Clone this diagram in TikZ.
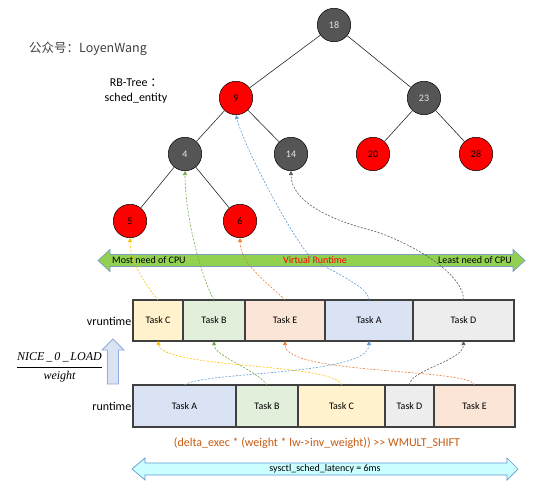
\documentclass[tikz,border=0pt]{standalone}
\usepackage{fontspec}
\setmainfont{Carlito}
\newfontfamily\cjk{Noto Sans CJK SC}
\newfontfamily\tnr{Liberation Serif}
\usetikzlibrary{arrows.meta}
\definecolor{treegray}{HTML}{555555}
\definecolor{treered}{HTML}{FF0000}
\definecolor{boxborder}{HTML}{404040}
\definecolor{fillC}{HTML}{FFF2CC}
\definecolor{fillB}{HTML}{E2EFDA}
\definecolor{fillE}{HTML}{FBE5D6}
\definecolor{fillA}{HTML}{DAE3F3}
\definecolor{fillD}{HTML}{EDEDED}
\definecolor{cY}{HTML}{FFC000}
\definecolor{cG}{HTML}{70AD47}
\definecolor{cO}{HTML}{ED7D31}
\definecolor{cB}{HTML}{5B9BD5}
\definecolor{cK}{HTML}{595959}
\definecolor{greenfill}{HTML}{92D050}
\definecolor{greenline}{HTML}{7A9CC6}
\definecolor{cyanfill}{HTML}{CCFFFF}
\definecolor{cyanline}{HTML}{5B9BD5}
\definecolor{upfill}{HTML}{DAE3F3}
\definecolor{upline}{HTML}{8FAADC}
\definecolor{formula}{HTML}{C55A11}
\definecolor{titlegray}{HTML}{404040}
\definecolor{numlight}{HTML}{E6E6E6}
\begin{document}
\begin{tikzpicture}[x=1pt,y=-1pt,
  tnode/.style={circle, draw=black, line width=0.5pt, minimum size=33.5pt, inner sep=0pt, font=\fontsize{10}{11}\selectfont},
  gnode/.style={tnode, fill=treegray, text=numlight},
  rnode/.style={tnode, fill=treered, text=black},
  treeline/.style={draw=black!85, line width=0.6pt},
  taskbox/.style={draw=boxborder, line width=1.2pt, inner sep=0pt, outer sep=0pt, font=\fontsize{10}{12}\selectfont},
  vbox/.style={taskbox, minimum height=41pt},
  rbox/.style={taskbox, minimum height=42pt},
  link/.style={dash pattern=on 2pt off 1.5pt, line width=0.6pt, -{Triangle[length=4pt,width=4pt]}},
  lbl/.style={font=\fontsize{10}{12}\selectfont, inner sep=0pt}
]
\useasboundingbox (0,0) rectangle (559,491);

% titles
\node[anchor=west, inner sep=0pt, text=titlegray, font=\cjk\fontsize{12.5}{14}\selectfont] (title) at (29,49) {公众号：LoyenWang};
\node[align=center, inner sep=0pt, font=\fontsize{12}{15}\selectfont] (rbt) at (136,91.5) {RB-Tree {\cjk ：}\\sched\_entity};

% tree
\node[gnode] (n18) at (334,25) {18};
\node[rnode] (n9) at (236,98) {9};
\node[gnode] (n23) at (424,98) {23};
\node[gnode] (n4) at (185,154) {4};
\node[gnode] (n14) at (291,154) {14};
\node[rnode] (n20) at (373,154) {20};
\node[rnode] (n28) at (476,154) {28};
\node[rnode] (n5) at (130,221) {5};
\node[rnode] (n6) at (240,221) {6};
\draw[treeline] (n18) -- (n9);
\draw[treeline] (n18) -- (n23);
\draw[treeline] (n9) -- (n4);
\draw[treeline] (n9) -- (n14);
\draw[treeline] (n23) -- (n20);
\draw[treeline] (n23) -- (n28);
\draw[treeline] (n4) -- (n5);
\draw[treeline] (n4) -- (n6);

% green virtual runtime arrow
\draw[fill=greenfill, draw=greenline, line width=0.7pt]
  (98,260.5) -- (110,249.5) -- (110,254.5) -- (513,254.5) -- (513,249.5) -- (525,260.5)
  -- (513,271.5) -- (513,266.5) -- (110,266.5) -- (110,271.5) -- cycle;
\node[lbl, anchor=west] (most) at (112,260.5) {Most need of CPU};
\node[lbl, text=red] (virt) at (315,260.5) {Virtual Runtime};
\node[lbl, anchor=east] (least) at (512,260.5) {Least need of CPU};

% vruntime row
\node[vbox, fill=fillC, minimum width=50pt] (vC) at (158,320.5) {Task C};
\node[vbox, fill=fillB, minimum width=62pt] (vB) at (214,320.5) {Task B};
\node[vbox, fill=fillE, minimum width=80pt] (vE) at (285,320.5) {Task E};
\node[vbox, fill=fillA, minimum width=88pt] (vA) at (369,320.5) {Task A};
\node[vbox, fill=fillD, minimum width=101pt] (vD) at (463.5,320.5) {Task D};
\node[anchor=east, inner sep=0pt, font=\fontsize{12}{14}\selectfont] (vlab) at (131.5,321) {vruntime};

% runtime row
\node[rbox, fill=fillA, minimum width=103pt] (rA) at (184.5,406) {Task A};
\node[rbox, fill=fillB, minimum width=62pt] (rB) at (267,406) {Task B};
\node[rbox, fill=fillC, minimum width=87pt] (rC) at (341.5,406) {Task C};
\node[rbox, fill=fillD, minimum width=49pt] (rD) at (409.5,406) {Task D};
\node[rbox, fill=fillE, minimum width=81pt] (rE) at (474.5,406) {Task E};
\node[anchor=east, inner sep=0pt, font=\fontsize{12}{14}\selectfont] (rlab) at (131.5,406) {runtime};

% up arrow and fraction
\draw[fill=upfill, draw=upline, line width=0.8pt]
  (113,339) -- (124,350) -- (118.5,350) -- (118.5,384) -- (107.5,384) -- (107.5,350) -- (102,350) -- cycle;
\node[inner sep=0pt, font=\tnr\itshape\fontsize{12}{14}\selectfont] (num) at (59.5,357) {NICE\,\_\,0\,\_\,LOAD};
\node[inner sep=0pt, font=\tnr\itshape\fontsize{12}{14}\selectfont] (den) at (59.5,377) {weight};
\draw[line width=0.8pt] (17,367) -- (102,367);

% connectors runtime -> vruntime
\draw[link, cB] (rA.north) .. controls +(20,-14) and +(0,35) .. (vA.south);
\draw[link, cG] (rB.north) .. controls +(-10,-15) and +(0,15) .. (vB.south);
\draw[link, cY] (rC.north) .. controls +(-5,-22) and +(5,28) .. (vC.south);
\draw[link, cK] (rD.north) .. controls +(0,-15) and +(0,20) .. (vD.south);
\draw[link, cO] (rE.north) .. controls +(-5,-17) and +(0,34) .. (vE.south);

% connectors vruntime -> tree
\coordinate (wA) at (310,256);
\coordinate (wD) at (370,230);
\draw[link, cY] (vC.north) .. controls +(-12,-15) and +(0,25) .. (n5.south);
\draw[link, cG] (vB.north) .. controls +(-14,-25) and +(0,43) .. (n4.south);
\draw[link, cO] (vE.north) .. controls +(-15,-15) and +(0,26) .. (n6.south);
\draw[link, cB] (vA.north) .. controls +(0,-15) and +(15,14) .. (wA) .. controls +(-15,-14) and +(9,35) .. (n9.south);
\draw[link, cK] (vD.north) .. controls +(0,-30) and +(30,8) .. (wD) .. controls +(-35,-9) and +(0,32) .. (n14.south);

% formula
\node[inner sep=0pt, text=formula, font=\fontsize{12}{14}\selectfont] (form) at (317,443) {(delta\_exec * (weight * lw-{}>inv\_weight)) >{}> WMULT\_SHIFT};

% sched latency arrow
\draw[fill=cyanfill, draw=cyanline, line width=0.7pt]
  (132,469) -- (145,458) -- (145,463) -- (507,463) -- (507,458) -- (518,469)
  -- (507,480) -- (507,475) -- (145,475) -- (145,480) -- cycle;
\node[lbl] (lat) at (325,469) {sysctl\_sched\_latency = 6ms};
\end{tikzpicture}
\end{document}
